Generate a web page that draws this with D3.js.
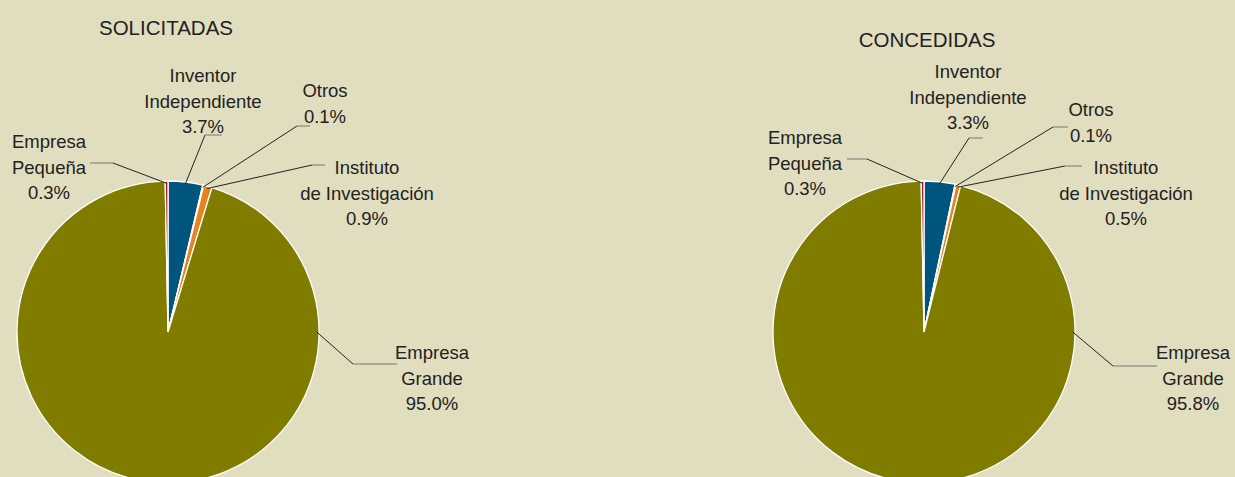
<!DOCTYPE html>
<html>
<head>
<meta charset="utf-8">
<script src="https://cdn.jsdelivr.net/npm/d3@7"></script>
<style>
  html, body { margin: 0; padding: 0; background: #e1ddbf; }
  svg { display: block; }
</style>
</head>
<body>
<div id="chart"></div>
<script>
// data
const categories = ["Inventor Independiente", "Otros", "Instituto de Investigación", "Empresa Grande", "Empresa Pequeña"];
const labelLines = [["Inventor", "Independiente"], ["Otros"], ["Instituto", "de Investigación"], ["Empresa", "Grande"], ["Empresa", "Pequeña"]];
const solicitadas = [3.7, 0.1, 0.9, 95.0, 0.3];
const concedidas = [3.3, 0.1, 0.5, 95.8, 0.3];
const titles = ["SOLICITADAS", "CONCEDIDAS"];
const colors = ["#00557f", "#ffffff", "#e8821e", "#807c00", "#a3182e"];

const width = 1235, height = 477;

// layout for each pie: center, title, label anchors and leader elbows
const layouts = [
  {
    cx: 168, cy: 332, r: 151, title: [166, 35],
    labels: [
      { x: 203, y: 82, elbow: [205, 135], end: [222, 135] },
      { x: 325, y: 97, elbow: [297, 126], end: [310, 126] },
      { x: 367, y: 174, elbow: [312, 165], end: [325, 165] },
      { x: 432, y: 359, elbow: [353, 364], end: [397, 364], angle: Math.PI / 2 },
      { x: 49, y: 148, elbow: [113, 163], end: [90, 163] }
    ]
  },
  {
    cx: 924, cy: 332, r: 151, title: [927, 47],
    labels: [
      { x: 968, y: 78, elbow: [969, 138], end: [983, 138] },
      { x: 1091, y: 116, elbow: [1053, 127], end: [1068, 127] },
      { x: 1126, y: 174, elbow: [1065, 166], end: [1082, 166] },
      { x: 1193, y: 359, elbow: [1113, 366], end: [1157, 366], angle: Math.PI / 2 },
      { x: 805, y: 144, elbow: [867, 159], end: [847, 159] }
    ]
  }
];

const svg = d3.select("#chart").append("svg")
    .attr("width", width)
    .attr("height", height)
    .attr("font-family", "'Liberation Sans', Arial, sans-serif");

svg.append("rect")
    .attr("width", width)
    .attr("height", height)
    .attr("fill", "#e1ddbf");

const color = d3.scaleOrdinal().domain(categories).range(colors);

const pie = d3.pie().sort(null).value(d => d.value);

[solicitadas, concedidas].forEach((values, i) => {
  const lay = layouts[i];
  const data = categories.map((c, j) => ({ name: c, value: values[j], lines: labelLines[j] }));
  const arcs = pie(data);
  const arc = d3.arc().innerRadius(0).outerRadius(lay.r);

  const g = svg.append("g")
      .attr("transform", `translate(${lay.cx},${lay.cy})`);

  // slices
  g.selectAll("path.slice")
    .data(arcs)
    .join("path")
      .attr("class", "slice")
      .attr("d", arc)
      .attr("fill", d => color(d.data.name))
      .attr("stroke", "#ffffff")
      .attr("stroke-width", 1.3);

  // title
  svg.append("text")
      .attr("x", lay.title[0])
      .attr("y", lay.title[1])
      .attr("text-anchor", "middle")
      .attr("font-size", "20.5px")
      .attr("fill", "#222")
      .text(titles[i]);

  // leader lines and labels
  arcs.forEach((a, j) => {
    const l = lay.labels[j];
    const ang = l.angle !== undefined ? l.angle : (a.startAngle + a.endAngle) / 2;
    const rr = lay.r * 0.985;
    const sx = lay.cx + rr * Math.sin(ang);
    const sy = lay.cy - rr * Math.cos(ang);

    svg.append("line")
        .attr("x1", sx).attr("y1", sy)
        .attr("x2", l.elbow[0]).attr("y2", l.elbow[1])
        .attr("stroke", "#222")
        .attr("stroke-width", 1);
    svg.append("line")
        .attr("x1", l.elbow[0]).attr("y1", l.elbow[1])
        .attr("x2", l.end[0]).attr("y2", l.end[1])
        .attr("stroke", "#777")
        .attr("stroke-width", 1);

    const t = svg.append("text")
        .attr("x", l.x)
        .attr("y", l.y)
        .attr("text-anchor", "middle")
        .attr("font-size", "18.5px")
        .attr("fill", "#222");
    const lines = a.data.lines.concat([d3.format(".1f")(a.data.value) + "%"]);
    lines.forEach((s, k) => {
      t.append("tspan")
          .attr("x", l.x)
          .attr("dy", k === 0 ? 0 : 25.7)
          .text(s);
    });
  });
});
</script>
</body>
</html>
